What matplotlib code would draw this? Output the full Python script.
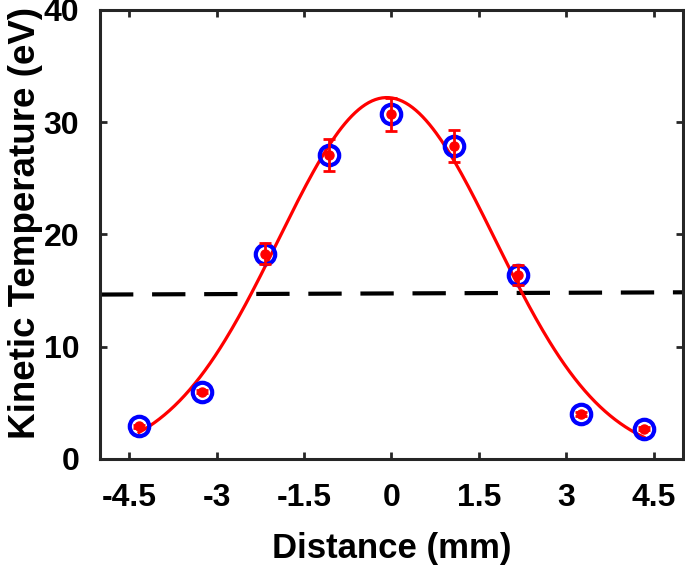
import numpy as np
import matplotlib
matplotlib.use("Agg")
import matplotlib.pyplot as plt

# Data
distance = [-4.33, -3.25, -2.17, -1.08, 0.0, 1.08, 2.17, 3.25, 4.33]
temperature = [2.9, 6.0, 18.3, 27.1, 30.7, 27.9, 16.4, 4.0, 2.7]
temp_err = [0.15, 0.15, 0.95, 1.4, 1.5, 1.4, 0.9, 0.15, 0.15]

# Gaussian fit parameters
fit_amp = 32.2
fit_center = -0.08
fit_sigma = 1.86

# Threshold (dashed) line end values
threshold_x = [-5.0, 5.0]
threshold_y = [14.65, 14.85]

xticks = [-4.5, -3, -1.5, 0, 1.5, 3, 4.5]
xticklabels = ["-4.5", "-3", "-1.5", "0", "1.5", "3", "4.5"]
yticks = [0, 10, 20, 30, 40]

plt.rcParams['font.family'] = ['Liberation Sans', 'DejaVu Sans']
plt.rcParams['font.weight'] = 'bold'

fig = plt.figure(figsize=(6.85, 5.69), dpi=100)
ax = fig.add_axes([100/685, 1 - 459/569, 583/685, 449/569])

xfit = np.linspace(distance[0], distance[-1], 300)
yfit = fit_amp * np.exp(-(xfit - fit_center) ** 2 / (2 * fit_sigma ** 2))

ax.plot(threshold_x, threshold_y, color='black', lw=3.0, dashes=(8, 4.5), zorder=2)
ax.plot(xfit, yfit, color='red', lw=2.3, zorder=3)
ax.plot(distance, temperature, 'o', ms=14, mfc='none', mec='blue', mew=3.0, zorder=4)
ax.errorbar(distance, temperature, yerr=temp_err, fmt='o', color='red', ms=6.5,
            elinewidth=2.0, capsize=4.2, capthick=2.0, zorder=5)

ax.set_xlim(-5, 5)
ax.set_ylim(0, 40)
ax.set_xticks(xticks)
ax.set_xticklabels(xticklabels)
ax.set_yticks(yticks)

for s in ax.spines.values():
    s.set_linewidth(2.2)
    s.set_color('#262626')
ax.tick_params(direction='in', length=5, width=2, colors='#262626', top=True, right=True,
               labelsize=23, labelcolor='black')
ax.tick_params(axis='x', pad=17)
ax.tick_params(axis='y', pad=15)
for lab in ax.get_xticklabels() + ax.get_yticklabels():
    lab.set_fontweight('bold')

ax.set_xlabel('Distance (mm)', fontsize=25, fontweight='bold', labelpad=14)
ax.set_ylabel('Kinetic Temperature (eV)', fontsize=26.5, fontweight='bold', labelpad=1)
ax.yaxis.set_label_coords(-0.097, 0.525)

fig.savefig('out.png', dpi=100)
